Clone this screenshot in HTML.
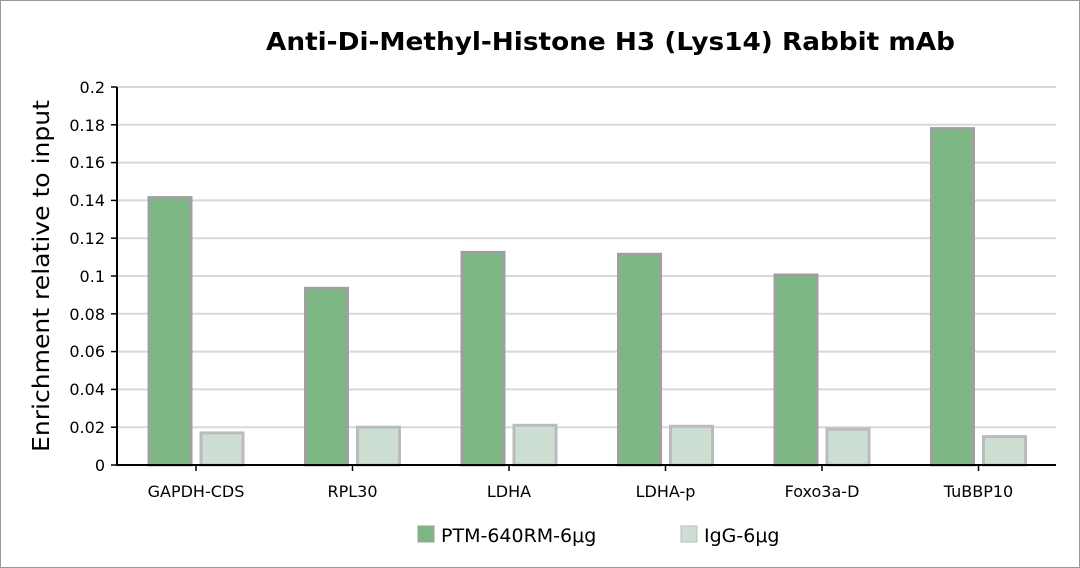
<!DOCTYPE html><html><head><style>body{margin:0;background:#fff}svg{display:block}</style></head><body>
<svg width="1080" height="568" xmlns="http://www.w3.org/2000/svg" font-family="Verdana, 'DejaVu Sans', sans-serif">
<rect x="0.5" y="0.5" width="1079" height="567" fill="#fff" stroke="#999"/>
<text x="266" y="50" font-size="25" font-weight="bold" textLength="689" lengthAdjust="spacingAndGlyphs" fill="#000">Anti-Di-Methyl-Histone H3 (Lys14) Rabbit mAb</text>
<g stroke="#d8d8d8" stroke-width="2">
<line x1="117" x2="1056" y1="87" y2="87"/><line x1="117" x2="1056" y1="124.8" y2="124.8"/><line x1="117" x2="1056" y1="162.6" y2="162.6"/><line x1="117" x2="1056" y1="200.4" y2="200.4"/><line x1="117" x2="1056" y1="238.2" y2="238.2"/><line x1="117" x2="1056" y1="276" y2="276"/><line x1="117" x2="1056" y1="313.8" y2="313.8"/><line x1="117" x2="1056" y1="351.6" y2="351.6"/><line x1="117" x2="1056" y1="389.4" y2="389.4"/><line x1="117" x2="1056" y1="427.2" y2="427.2"/>
</g>
<g font-size="16" text-anchor="end" fill="#000">
<text x="105" y="93">0.2</text><text x="105" y="131">0.18</text><text x="105" y="168">0.16</text><text x="105" y="206">0.14</text><text x="105" y="244">0.12</text><text x="105" y="282">0.1</text><text x="105" y="320">0.08</text><text x="105" y="357">0.06</text><text x="105" y="395">0.04</text><text x="105" y="433">0.02</text><text x="105" y="471">0</text>
</g>
<g stroke="#000" stroke-width="1.5">
<line x1="111" x2="117" y1="87" y2="87"/><line x1="111" x2="117" y1="124.8" y2="124.8"/><line x1="111" x2="117" y1="162.6" y2="162.6"/><line x1="111" x2="117" y1="200.4" y2="200.4"/><line x1="111" x2="117" y1="238.2" y2="238.2"/><line x1="111" x2="117" y1="276" y2="276"/><line x1="111" x2="117" y1="313.8" y2="313.8"/><line x1="111" x2="117" y1="351.6" y2="351.6"/><line x1="111" x2="117" y1="389.4" y2="389.4"/><line x1="111" x2="117" y1="427.2" y2="427.2"/><line x1="111" x2="117" y1="465" y2="465"/>
</g>
<text transform="translate(49,452) rotate(-90)" font-size="23" textLength="352" lengthAdjust="spacingAndGlyphs">Enrichment relative to input</text>
<g stroke-width="3">
<rect x="149" y="197.6" width="42" height="267.4" fill="#7db783" stroke="#a0a0a0"/>
<rect x="201" y="432.9" width="42" height="32.1" fill="#cddfd3" stroke="#bbb"/>
<rect x="305.5" y="288.3" width="42" height="176.7" fill="#7db783" stroke="#a0a0a0"/>
<rect x="357.5" y="427.2" width="42" height="37.8" fill="#cddfd3" stroke="#bbb"/>
<rect x="462" y="252.4" width="42" height="212.6" fill="#7db783" stroke="#a0a0a0"/>
<rect x="514" y="425.3" width="42" height="39.7" fill="#cddfd3" stroke="#bbb"/>
<rect x="618.5" y="254.3" width="42" height="210.7" fill="#7db783" stroke="#a0a0a0"/>
<rect x="670.5" y="426.3" width="42" height="38.7" fill="#cddfd3" stroke="#bbb"/>
<rect x="775" y="275" width="42" height="190" fill="#7db783" stroke="#a0a0a0"/>
<rect x="827" y="429.1" width="42" height="35.9" fill="#cddfd3" stroke="#bbb"/>
<rect x="931.5" y="128.6" width="42" height="336.4" fill="#7db783" stroke="#a0a0a0"/>
<rect x="983.5" y="436.6" width="42" height="28.4" fill="#cddfd3" stroke="#bbb"/>
</g>
<line x1="117" x2="1056" y1="465" y2="465" stroke="#000" stroke-width="2"/>
<line x1="117" x2="117" y1="87" y2="466" stroke="#000" stroke-width="2"/>
<g stroke="#000" stroke-width="1.5">
<line x1="196" x2="196" y1="465" y2="471"/><line x1="352.5" x2="352.5" y1="465" y2="471"/><line x1="509" x2="509" y1="465" y2="471"/><line x1="665.5" x2="665.5" y1="465" y2="471"/><line x1="822" x2="822" y1="465" y2="471"/><line x1="978.5" x2="978.5" y1="465" y2="471"/>
</g>
<g font-size="16" text-anchor="middle">
<text x="196" y="497">GAPDH-CDS</text><text x="352.5" y="497">RPL30</text><text x="509" y="497">LDHA</text><text x="665.5" y="497">LDHA-p</text><text x="822" y="497">Foxo3a-D</text><text x="978.5" y="497">TuBBP10</text>
</g>
<rect x="418" y="526" width="16" height="16" fill="#7db783" stroke="#a0a0a0"/>
<text x="441" y="542" font-size="19">PTM-640RM-6μg</text>
<rect x="681" y="526" width="16" height="16" fill="#cddfd3" stroke="#bbb"/>
<text x="704" y="542" font-size="19">IgG-6μg</text>
</svg></body></html>
